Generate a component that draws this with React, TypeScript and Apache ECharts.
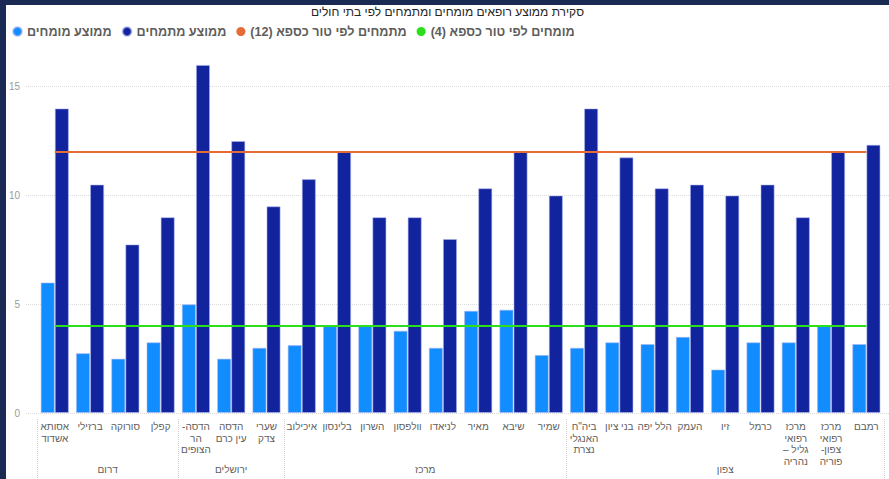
import React, { useEffect, useRef } from "react";
import * as echarts from "echarts";

// ---------- data ----------
const hospitals = [
  "אסותא אשדוד",
  "ברזילי",
  "סורוקה",
  "קפלן",
  "הדסה-הר הצופים",
  "הדסה עין כרם",
  "שערי צדק",
  "איכילוב",
  "בלינסון",
  "השרון",
  "וולפסון",
  "לניאדו",
  "מאיר",
  "שיבא",
  "שמיר",
  'ביה"ח האנגלי נצרת',
  "בני ציון",
  "הלל יפה",
  "העמק",
  "זיו",
  "כרמל",
  "מרכז רפואי גליל – נהריה",
  "מרכז רפואי צפון-פוריה",
  "רמבם",
];

const avgExperts = [
  6.0, 2.75, 2.5, 3.25, 5.0, 2.5, 3.0, 3.12, 4.0, 4.0, 3.78, 3.0, 4.7, 4.75, 2.67,
  3.0, 3.25, 3.17, 3.5, 2.0, 3.25, 3.25, 4.0, 3.17,
];

const avgResidents = [
  14.0, 10.5, 7.75, 9.0, 16.0, 12.5, 9.5, 10.75, 12.0, 9.0, 9.0, 8.0, 10.33, 12.0, 10.0,
  14.0, 11.75, 10.33, 10.5, 10.0, 10.5, 9.0, 12.0, 12.33,
];

const expertStandard = 4;
const residentStandard = 12;

const regions = ["דרום", "ירושלים", "מרכז", "צפון"];
const regionSizes = [4, 3, 8, 9];

const yTicks = [0, 5, 10, 15];

const titleText = "סקירת ממוצע רופאים מומחים ומתמחים לפי בתי חולים";
const seriesNames = [
  "ממוצע מומחים",
  "ממוצע מתמחים",
  "מתמחים לפי טור כספא (12)",
  "מומחים לפי טור כספא (4)",
];

// label line-breaks (layout only), lines as they appear on screen
const wrapped: Record<string, string> = {
  "אסותא אשדוד": "אסותא\nאשדוד",
  "הדסה-הר הצופים": "-הדסה\nהר\nהצופים",
  "הדסה עין כרם": "הדסה\nעין כרם",
  "שערי צדק": "שערי\nצדק",
  'ביה"ח האנגלי נצרת': 'ביה"ח\nהאנגלי\nנצרת',
  "מרכז רפואי גליל – נהריה": "מרכז\nרפואי\n– גליל\nנהריה",
  "מרכז רפואי צפון-פוריה": "מרכז\nרפואי\n-צפון\nפוריה",
};

const FONT = "'Segoe UI', 'Liberation Sans', 'DejaVu Sans', sans-serif";
// right-to-left isolate so "(12)" sits at the visual start of the Hebrew text
const rtl = (s: string) => "\u2067" + s + "\u2069";

export default function App() {
  const ref = useRef<HTMLDivElement>(null);

  useEffect(() => {
    if (!ref.current) return;
    const chart = echarts.init(ref.current, undefined, { renderer: "svg" });

    const bounds: number[] = [0];
    regionSizes.forEach((n) => bounds.push(bounds[bounds.length - 1] + n));
    const centres = regionSizes.map((n, i) => bounds[i] + n / 2);
    const last = hospitals.length - 1;

    const yMax = 16.5;
    const yInterval = yTicks[1] - yTicks[0];

    chart.setOption({
      animation: false,
      backgroundColor: "#ffffff",
      textStyle: { fontFamily: FONT },
      title: {
        text: titleText,
        left: "center",
        top: 0,
        padding: [1, 0, 0, 0],
        textStyle: { fontSize: 12, fontWeight: "normal", color: "#252423", fontFamily: FONT },
      },
      legend: {
        left: 1,
        top: 15,
        icon: "circle",
        itemWidth: 9,
        itemHeight: 9,
        itemGap: 10,
        data: seriesNames,
        formatter: (n: string) => (/\)$/.test(n) ? rtl(n) : n),
        textStyle: { fontSize: 12.6, color: "#605E5C", fontWeight: 600, fontFamily: FONT },
      },
      grid: [
        { left: 31, right: 5, top: 49, bottom: 66, containLabel: false },
        { left: 20, right: 0, top: 49, bottom: 66, containLabel: false },
      ],
      xAxis: [
        {
          type: "category",
          gridIndex: 0,
          data: hospitals,
          axisLine: { show: false },
          axisTick: { show: false },
          axisLabel: {
            interval: 0,
            fontSize: 10,
            color: "#605E5C",
            lineHeight: 11.5,
            margin: 8,
            fontFamily: FONT,
            formatter: (v: string) => wrapped[v] ?? v,
          },
        },
        {
          type: "value",
          gridIndex: 0,
          min: 0,
          max: hospitals.length,
          position: "bottom",
          offset: 65,
          axisLine: { show: false },
          splitLine: { show: false },
          axisTick: {
            show: true,
            inside: true,
            length: 60,
            customValues: bounds,
            lineStyle: { color: "#d0d0d0", type: "dotted", width: 1 },
          },
          axisLabel: {
            inside: true,
            margin: 4,
            fontSize: 10,
            color: "#605E5C",
            fontFamily: FONT,
            customValues: centres,
            formatter: (v: number) => {
              const i = centres.indexOf(v);
              return i >= 0 ? regions[i] : "";
            },
          },
        },
        {
          type: "value",
          gridIndex: 1,
          min: 0,
          max: 1,
          show: false,
        },
      ],
      yAxis: [
        {
          type: "value",
          gridIndex: 0,
          min: yTicks[0],
          max: yMax,
          interval: yInterval,
          axisLine: { show: false },
          axisTick: { show: false },
          axisLabel: {
            showMaxLabel: false,
            fontSize: 10,
            color: "#9a9a9a",
            margin: 17,
            fontFamily: FONT,
          },
          splitLine: { show: false },
        },
        {
          type: "value",
          gridIndex: 1,
          min: yTicks[0],
          max: yMax,
          interval: yInterval,
          axisLine: { show: false },
          axisTick: { show: false },
          axisLabel: { show: false },
          splitLine: {
            showMaxLine: false,
            lineStyle: { color: "#dcdcdc", type: "dotted", width: 1 },
          },
          z: 0,
        },
      ],
      series: [
        {
          name: seriesNames[0],
          type: "bar",
          data: avgExperts,
          barGap: "0%",
          barCategoryGap: "20%",
          itemStyle: { color: "#118DFF", borderColor: "rgba(170,180,240,0.55)", borderWidth: 1 },
        },
        {
          name: seriesNames[1],
          type: "bar",
          data: avgResidents,
          barGap: "0%",
          barCategoryGap: "20%",
          itemStyle: { color: "#12239E", borderColor: "rgba(170,180,240,0.55)", borderWidth: 1 },
        },
        {
          name: seriesNames[2],
          type: "line",
          data: [
            [hospitals[0], residentStandard],
            [hospitals[last], residentStandard],
          ],
          showSymbol: false,
          symbol: "none",
          color: "#E66C37",
          lineStyle: { color: "#E66C37", width: 2 },
          z: 5,
        },
        {
          name: seriesNames[3],
          type: "line",
          data: [
            [hospitals[0], expertStandard],
            [hospitals[last], expertStandard],
          ],
          showSymbol: false,
          symbol: "none",
          color: "#2BE01B",
          lineStyle: { color: "#2BE01B", width: 2 },
          z: 5,
        },
      ],
    });

    return () => chart.dispose();
  }, []);

  return (
    <div
      style={{
        position: "fixed",
        left: 0,
        top: 0,
        width: 889,
        height: 479,
        background: "#1B2A52",
        overflow: "hidden",
      }}
    >
      <div
        ref={ref}
        style={{ position: "absolute", left: 6, top: 5, width: 883, height: 474, background: "#fff" }}
      />
    </div>
  );
}
